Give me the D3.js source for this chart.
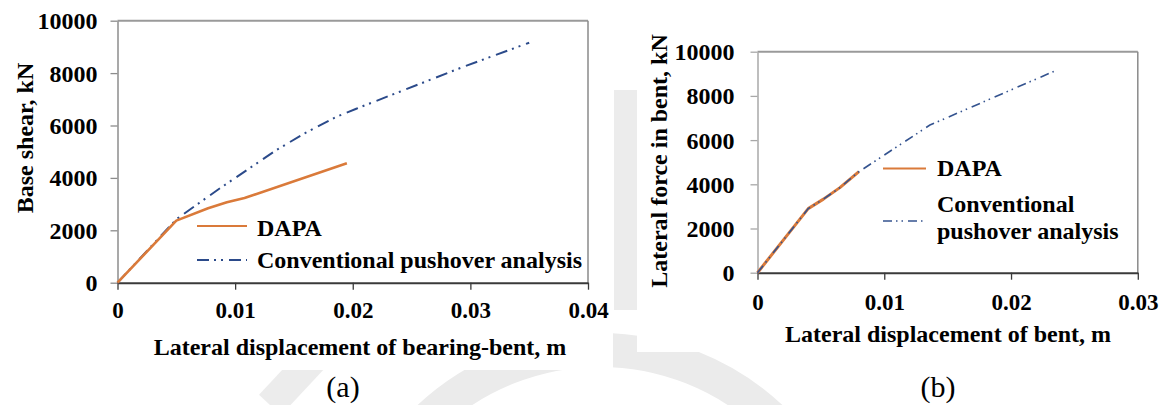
<!DOCTYPE html>
<html>
<head>
<meta charset="utf-8">
<script src="https://cdn.jsdelivr.net/npm/d3@7"></script>
<style>
  html, body { margin: 0; padding: 0; background: #ffffff; }
  svg { display: block; }
  text { font-family: "Liberation Serif", "Times New Roman", serif; fill: #000; }
</style>
</head>
<body>
<svg id="fig" width="1165" height="405"></svg>
<script>
// ---- data: panel (a) bearing-bent ----
const dapaDispA  = [0, 0.005, 0.0077, 0.0093, 0.0108, 0.0195];
const dapaForceA = [0, 2370, 2840, 3070, 3230, 4560];
const convDispA  = [0, 0.005, 0.0085, 0.011, 0.0135, 0.0159, 0.0186, 0.0203, 0.024, 0.0294, 0.035];
const convForceA = [0, 2420, 3540, 4300, 5060, 5700, 6330, 6640, 7290, 8240, 9160];

// ---- data: panel (b) bent ----
const dapaDispB  = [0, 0.004, 0.0052, 0.0065, 0.008];
const dapaForceB = [0, 2900, 3330, 3850, 4570];
const convDispB  = [0, 0.004, 0.0052, 0.0065, 0.008, 0.0136, 0.0235];
const convForceB = [0, 2900, 3330, 3850, 4570, 6680, 9140];

// ---- tick values ----
const yTicks  = [0, 2000, 4000, 6000, 8000, 10000];
const xTicksA = [0, 0.01, 0.02, 0.03, 0.04];
const xTicksB = [0, 0.01, 0.02, 0.03];

const seriesNames = ["DAPA", "Conventional pushover analysis"];

const FONT = "font-family: 'Liberation Serif', 'Times New Roman', serif;";
const svg = d3.select("#fig");
const ORANGE = "#DA7A3A";
const NAVY = "#2B4A8A";

// faint background emblem
const bg = svg.append("g");
bg.append("circle").attr("cx", 600).attr("cy", 600).attr("r", 250)
  .attr("fill", "none").attr("stroke", "#ebebeb").attr("stroke-width", 34);
bg.append("path").attr("d", "M270,405 L340,330").attr("stroke", "#ececec").attr("stroke-width", 30);
bg.append("path").attr("d", "M1150,120 Q1175,230 1140,330").attr("fill", "none").attr("stroke", "#ececec").attr("stroke-width", 30);
bg.append("rect").attr("x", 614).attr("y", 90).attr("width", 23).attr("height", 220).attr("fill", "#ececec");

// white chart panels
svg.append("rect").attr("x", 0).attr("y", 0).attr("width", 613).attr("height", 370).attr("fill", "#fff");
svg.append("rect").attr("x", 637).attr("y", 0).attr("width", 528).attr("height", 352).attr("fill", "#fff");

const fmtX = d => d === 0 ? "0" : d3.format(".2f")(d);

function boldText(sel, size) {
  return sel.attr("style", FONT + `font-size:${size}px;font-weight:bold;`);
}

function panel(cfg) {
  const g = svg.append("g");
  const x = d3.scaleLinear().domain(cfg.xDomain).range(cfg.xRange);
  const y = d3.scaleLinear().domain([0, 10000]).range(cfg.yRange);
  const [x0, x1] = cfg.xRange, [yb, yt] = cfg.yRange;

  // frame: top and right borders
  g.append("line").attr("x1", x0).attr("x2", x1).attr("y1", yt).attr("y2", yt)
    .attr("stroke", "#9a9a9a").attr("stroke-width", 2);
  g.append("line").attr("x1", x1).attr("x2", x1).attr("y1", yt).attr("y2", yb)
    .attr("stroke", "#8a8a8a").attr("stroke-width", 1.5);

  // y axis
  const ya = g.append("g").attr("transform", `translate(${x0},0)`)
    .call(d3.axisLeft(y).tickValues(yTicks).tickFormat(d3.format("d")).tickSize(7).tickSizeOuter(0).tickPadding(cfg.yPad));
  ya.select(".domain").attr("stroke", cfg.yAxisColor).attr("stroke-width", 1.5);
  ya.selectAll(".tick line").attr("stroke", cfg.yAxisColor).attr("stroke-width", 1.3);
  boldText(ya.selectAll(".tick text"), 24).attr("dy", "0.33em");

  // x axis
  const xa = g.append("g").attr("transform", `translate(0,${yb})`)
    .call(d3.axisBottom(x).tickValues(cfg.xTicks).tickFormat(fmtX).tickSize(7).tickSizeOuter(0));
  xa.select(".domain").attr("stroke", "#3a3a3a").attr("stroke-width", 2);
  xa.selectAll(".tick line").attr("stroke", "#3a3a3a").attr("stroke-width", 1.3);
  boldText(xa.selectAll(".tick text"), 23).attr("y", cfg.xLabelBase - yb).attr("dy", 0);

  // axis titles
  boldText(g.append("text"), 24)
    .attr("transform", `translate(${cfg.yTitle[0]},${cfg.yTitle[1]}) rotate(-90)`)
    .attr("text-anchor", "middle").text(cfg.yTitleText);
  boldText(g.append("text"), 24).attr("x", cfg.xTitle[0]).attr("y", cfg.xTitle[1])
    .attr("text-anchor", "middle").text(cfg.xTitleText);

  // panel caption
  g.append("text").attr("x", cfg.caption[0]).attr("y", cfg.caption[1])
    .attr("text-anchor", "middle").attr("style", FONT + "font-size:30px;").text(cfg.captionText);

  const line = d3.line().x(d => x(d[0])).y(d => y(d[1]));
  const dapa = d3.zip(cfg.dapaX, cfg.dapaY);
  const conv = d3.zip(cfg.convX, cfg.convY);

  const drawDapa = () => g.append("path").datum(dapa).attr("d", line)
    .attr("fill", "none").attr("stroke", ORANGE).attr("stroke-width", cfg.dapaW).attr("stroke-linejoin", "round");
  const drawConv = () => g.append("path").datum(conv).attr("d", line)
    .attr("fill", "none").attr("stroke", cfg.convColor).attr("stroke-width", cfg.convW)
    .attr("stroke-dasharray", cfg.dash);

  if (cfg.convOnTop) { drawDapa(); drawConv(); } else { drawConv(); drawDapa(); }

  // legend
  const L = cfg.legend;
  g.append("line").attr("x1", L.x1).attr("x2", L.x2).attr("y1", L.y1).attr("y2", L.y1)
    .attr("stroke", ORANGE).attr("stroke-width", 2.2);
  g.append("line").attr("x1", L.x1).attr("x2", L.x2).attr("y1", L.y2).attr("y2", L.y2)
    .attr("stroke", cfg.convColor).attr("stroke-width", cfg.legendConvW).attr("stroke-dasharray", cfg.dash);
  boldText(g.append("text"), 24).attr("x", L.tx).attr("y", L.b1).text(seriesNames[0]);
  const t2 = boldText(g.append("text"), 24).attr("x", L.tx).attr("y", L.b2[0]);
  L.lines2.forEach((s, i) => {
    t2.append("tspan").attr("x", L.tx).attr("y", L.b2[i]).text(s);
  });
}

panel({
  xDomain: [0, 0.04], xRange: [117.5, 588], yRange: [282.7, 20.7],
  xTicks: xTicksA, yPad: 13, xLabelBase: 318, yAxisColor: "#8c8c8c",
  yTitle: [33, 138], yTitleText: "Base shear, kN",
  xTitle: [360, 355], xTitleText: "Lateral displacement of bearing-bent, m",
  caption: [343, 397], captionText: "(a)",
  dapaX: dapaDispA, dapaY: dapaForceA, convX: convDispA, convY: convForceA,
  dapaW: 2.6, convW: 2.0, legendConvW: 2.2, convColor: NAVY, dash: "12,5,2,5,2,6", convOnTop: false,
  legend: { x1: 197, x2: 247, y1: 226, y2: 260, tx: 257, b1: 236, b2: [268], lines2: [seriesNames[1]] }
});

panel({
  xDomain: [0, 0.03], xRange: [757.5, 1137.8], yRange: [272.7, 51.7],
  xTicks: xTicksB, yPad: 16, xLabelBase: 310, yAxisColor: "#a8a8a8",
  yTitle: [667, 161], yTitleText: "Lateral force in bent, kN",
  xTitle: [948, 342], xTitleText: "Lateral displacement of bent, m",
  caption: [938, 397], captionText: "(b)",
  dapaX: dapaDispB, dapaY: dapaForceB, convX: convDispB, convY: convForceB,
  dapaW: 3, convW: 1.6, legendConvW: 1.6, convColor: "#34538F", dash: "9,4,1.5,4,1.5,5", convOnTop: true,
  legend: { x1: 883, x2: 926, y1: 168.5, y2: 221, tx: 937, b1: 176, b2: [212, 239], lines2: ["Conventional", "pushover analysis"] }
});
</script>
</body>
</html>
